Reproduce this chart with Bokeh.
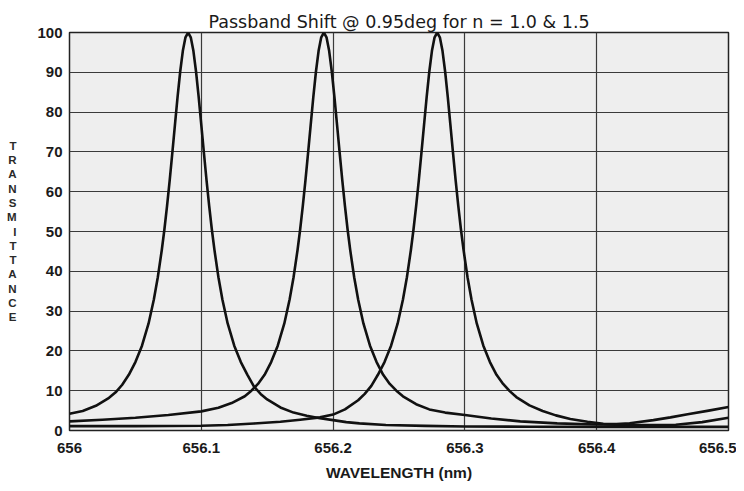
from bokeh.plotting import figure
from bokeh.models import FixedTicker, Range1d
from bokeh.embed import file_html
from bokeh.resources import INLINE

# ---------------- data ----------------
title_text = "Passband Shift @ 0.95deg for n = 1.0 & 1.5"
x_label_text = "WAVELENGTH (nm)"
y_label_text = "TRANSMITTANCE"

x_ticks = [656.0, 656.1, 656.2, 656.3, 656.4, 656.5]
x_tick_labels = ["656", "656.1", "656.2", "656.3", "656.4", "656.5"]
y_ticks = [0, 10, 20, 30, 40, 50, 60, 70, 80, 90, 100]
y_tick_labels = ["0", "10", "20", "30", "40", "50", "60", "70", "80", "90", "100"]

# passband 1 (peak ~656.090 nm)
wl_1 = [656.000, 656.010, 656.020, 656.030, 656.035, 656.040, 656.045, 656.050,
        656.055, 656.060, 656.064, 656.067, 656.070, 656.072, 656.074, 656.076,
        656.078, 656.080, 656.082, 656.084, 656.086, 656.088, 656.090, 656.092,
        656.094, 656.096, 656.098, 656.100, 656.102, 656.104, 656.106, 656.108,
        656.110, 656.113, 656.116, 656.120, 656.125, 656.130, 656.135, 656.140,
        656.145, 656.150, 656.160, 656.170, 656.180, 656.190, 656.200, 656.210,
        656.220, 656.240, 656.270, 656.300, 656.350, 656.400, 656.450, 656.500]
tr_1 = [4.2, 4.9, 6.2, 8.2, 9.6, 11.5, 14.0, 17.2,
        21.3, 26.9, 32.9, 38.5, 45.3, 50.5, 56.4, 62.8,
        69.7, 76.8, 83.8, 90.2, 95.4, 98.8, 100.0, 98.8,
        95.4, 90.2, 83.8, 76.8, 69.7, 62.8, 56.4, 50.5,
        45.3, 38.5, 32.9, 26.9, 21.3, 17.2, 14.0, 11.0,
        9.2, 7.8, 5.8, 4.5, 3.7, 3.1, 2.6, 2.1,
        1.8, 1.4, 1.15, 1.0, 0.95, 0.9, 0.9, 0.9]

# passband 2 (peak ~656.193 nm)
wl_2 = [656.000, 656.025, 656.050, 656.075, 656.100, 656.113, 656.123, 656.133,
        656.138, 656.143, 656.148, 656.153, 656.158, 656.163, 656.167, 656.170,
        656.173, 656.175, 656.177, 656.179, 656.181, 656.183, 656.185, 656.187,
        656.189, 656.191, 656.193, 656.195, 656.197, 656.199, 656.201, 656.203,
        656.205, 656.207, 656.209, 656.211, 656.213, 656.216, 656.219, 656.223,
        656.228, 656.233, 656.238, 656.243, 656.248, 656.253, 656.263, 656.273,
        656.285, 656.300, 656.320, 656.342, 656.370, 656.400, 656.430, 656.460,
        656.480, 656.500]
tr_2 = [2.3, 2.7, 3.2, 3.9, 4.8, 5.7, 6.9, 8.6,
        10.0, 11.7, 14.0, 17.2, 21.3, 26.9, 32.9, 38.5,
        45.3, 50.5, 56.4, 62.8, 69.7, 76.8, 83.8, 90.2,
        95.4, 98.8, 100.0, 98.8, 95.4, 90.2, 83.8, 76.8,
        69.7, 62.8, 56.4, 50.5, 45.3, 38.5, 32.9, 26.9,
        21.3, 17.2, 14.0, 11.7, 10.0, 8.6, 6.6, 5.3,
        4.5, 3.9, 3.0, 2.3, 1.8, 1.5, 1.4, 1.45,
        2.1, 3.2]

# passband 3 (peak ~656.279 nm)
wl_3 = [656.000, 656.050, 656.100, 656.120, 656.140, 656.160, 656.175, 656.190,
        656.200, 656.209, 656.219, 656.224, 656.229, 656.234, 656.239, 656.244,
        656.249, 656.253, 656.256, 656.259, 656.261, 656.263, 656.265, 656.267,
        656.269, 656.271, 656.273, 656.275, 656.277, 656.279, 656.281, 656.283,
        656.285, 656.287, 656.289, 656.291, 656.293, 656.295, 656.297, 656.299,
        656.302, 656.305, 656.309, 656.314, 656.319, 656.324, 656.329, 656.334,
        656.339, 656.349, 656.359, 656.369, 656.380, 656.393, 656.405, 656.415,
        656.425, 656.443, 656.456, 656.469, 656.485, 656.500]
tr_3 = [1.1, 1.1, 1.2, 1.4, 1.75, 2.2, 2.7, 3.3,
        4.0, 5.3, 7.6, 9.2, 11.2, 14.0, 17.2, 21.3,
        26.9, 32.9, 38.5, 45.3, 50.5, 56.4, 62.8, 69.7,
        76.8, 83.8, 90.2, 95.4, 98.8, 100.0, 98.8, 95.4,
        90.2, 83.8, 76.8, 69.7, 62.8, 56.4, 50.5, 45.3,
        38.5, 32.9, 26.9, 21.3, 17.2, 14.0, 11.7, 9.9,
        8.4, 6.3, 4.9, 3.8, 2.9, 2.2, 1.7, 1.6,
        1.8, 2.6, 3.3, 4.1, 5.0, 5.9]

# ---------------- figure ----------------
p = figure(width=736, height=483,
           x_range=Range1d(656.0, 656.5), y_range=Range1d(0, 100),
           output_backend="svg", toolbar_location=None,
           min_border_left=69, min_border_right=8,
           min_border_top=32, min_border_bottom=50)

p.title.text = title_text
p.title.align = "center"
p.title.text_font = "DejaVu Sans"
p.title.text_font_size = "17.5px"
p.title.text_font_style = "normal"
p.title.text_color = "#1a1a1a"
p.title.standoff = 1
p.title.offset = 0

p.background_fill_color = "#eeeeee"
p.border_fill_color = "white"
p.outline_line_color = "#222222"
p.outline_line_width = 1.5

# axes
p.xaxis.ticker = FixedTicker(ticks=x_ticks)
p.xaxis.major_label_overrides = {t: l for t, l in zip(x_ticks, x_tick_labels)}
p.yaxis.ticker = FixedTicker(ticks=y_ticks)
p.yaxis.major_label_overrides = {t: l for t, l in zip(y_ticks, y_tick_labels)}

for ax in (p.xaxis[0], p.yaxis[0]):
    ax.axis_line_color = None
    ax.major_tick_line_color = None
    ax.minor_tick_line_color = None
    ax.major_tick_out = 0
    ax.major_tick_in = 0
    ax.minor_tick_out = 0
    ax.minor_tick_in = 0
    ax.major_label_text_font = "Liberation Sans"
    ax.major_label_text_font_style = "bold"
    ax.major_label_text_font_size = "15px"
    ax.major_label_text_color = "#1a1a1a"

p.yaxis.major_label_standoff = 7
p.xaxis.major_label_standoff = 12

p.xaxis.axis_label = x_label_text
p.xaxis.axis_label_text_font = "Liberation Sans"
p.xaxis.axis_label_text_font_style = "bold"
p.xaxis.axis_label_text_font_size = "15.5px"
p.xaxis.axis_label_text_color = "#1a1a1a"
p.xaxis.axis_label_standoff = 8

# stacked vertical y-axis title
p.yaxis.axis_label = "\n".join(y_label_text)
p.yaxis.axis_label_orientation = "horizontal"
p.yaxis.axis_label_text_font = "Liberation Sans"
p.yaxis.axis_label_text_font_style = "bold"
p.yaxis.axis_label_text_font_size = "11.5px"
p.yaxis.axis_label_text_line_height = 1.19
p.yaxis.axis_label_text_color = "#2a2a2a"
p.yaxis.axis_label_standoff = 18

# grid
p.xgrid.ticker = FixedTicker(ticks=x_ticks)
p.ygrid.ticker = FixedTicker(ticks=y_ticks)
for g in (p.xgrid[0], p.ygrid[0]):
    g.grid_line_color = "#3a3a3a"
    g.grid_line_width = 1.2
    g.grid_line_alpha = 1.0

# curves
for wl, tr in ((wl_1, tr_1), (wl_2, tr_2), (wl_3, tr_3)):
    p.line(wl, tr, line_color="#111111", line_width=2.6, line_join="round")

open("out.html", "w").write(file_html(p, INLINE))
